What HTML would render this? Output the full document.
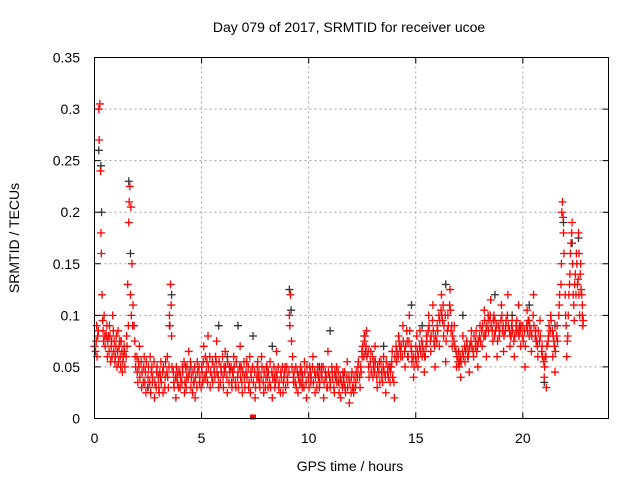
<!DOCTYPE html>
<html><head><meta charset="utf-8"><style>
body{margin:0;background:#fff}
svg{display:block;font-family:"Liberation Sans",sans-serif}
</style></head><body>
<svg id="chart" width="640" height="480" viewBox="0 0 640 480">
<rect width="640" height="480" fill="#fff"/>
<text x="349" y="32" text-anchor="middle" font-size="14">Day 079 of 2017, SRMTID for receiver ucoe</text>
<text x="350" y="471" text-anchor="middle" font-size="14">GPS time / hours</text>
<text transform="translate(19,238) rotate(-90)" text-anchor="middle" font-size="14">SRMTID / TECUs</text>
<g id="grid"></g><g id="ticks"></g><g id="black"></g><g id="red"></g>
<rect x="94.5" y="57.5" width="514" height="361" fill="none" stroke="#000" stroke-width="1"/>
</svg>
<script>
const xTicks=[0,5,10,15,20];
const yTicks=[0,0.05,0.1,0.15,0.2,0.25,0.3,0.35];
const yTickLabels=["0","0.05","0.1","0.15","0.2","0.25","0.3","0.35"];
const redPts=[[0,.07],[.05,.065],[.1,.09],[.15,.08],[.2,.3],[.22,.27],[.25,.305],[.28,.24],[.3,.18],[.32,.16],[.35,.12],[.4,.085],[.45,.1],[.5,.07],[.55,.08],[.6,.06],[.7,.09],[.75,.055],[.8,.075],[.85,.1],[.9,.065],[1,.07],[1.05,.05],[1.1,.085],[1.2,.06],[1.25,.075],[1.3,.045],[1.4,.065],[1.5,.08],[1.55,.13],[1.6,.19],[1.65,.225],[1.7,.205],[1.75,.15],[1.8,.11],[1.85,.09],[1.9,.06],[2,.045],[2.1,.07],[2.2,.03],[2.3,.05],[2.4,.025],[2.5,.04],[2.6,.06],[2.7,.035],[2.8,.02],[2.9,.045],[3,.03],[3.1,.055],[3.2,.025],[3.3,.04],[3.4,.06],[3.5,.1],[3.55,.13],[3.6,.08],[3.7,.035],[3.8,.02],[3.9,.045],[4,.03],[4.1,.05],[4.2,.025],[4.3,.04],[4.4,.065],[4.5,.03],[4.6,.045],[4.7,.02],[4.8,.055],[4.9,.035],[5,.05],[5.1,.07],[5.2,.04],[5.3,.08],[5.4,.03],[5.5,.055],[5.6,.045],[5.7,.075],[5.8,.03],[5.9,.05],[6,.04],[6.1,.065],[6.2,.025],[6.3,.05],[6.4,.035],[6.5,.06],[6.6,.03],[6.7,.045],[6.8,.07],[6.9,.025],[7,.04],[7.1,.055],[7.2,.03],[7.3,.045],[7.5,.02],[7.6,.05],[7.7,.035],[7.8,.06],[7.9,.025],[8,.04],[8.1,.03],[8.2,.055],[8.3,.02],[8.4,.04],[8.5,.065],[8.6,.03],[8.7,.045],[8.8,.025],[8.9,.05],[9,.04],[9.1,.1],[9.15,.12],[9.2,.075],[9.3,.035],[9.4,.05],[9.5,.025],[9.6,.045],[9.7,.03],[9.8,.055],[9.9,.02],[10,.04],[10.1,.035],[10.2,.06],[10.3,.025],[10.4,.045],[10.5,.03],[10.6,.05],[10.7,.02],[10.8,.04],[10.9,.065],[11,.03],[11.1,.045],[11.2,.025],[11.3,.05],[11.4,.035],[11.5,.02],[11.6,.045],[11.7,.03],[11.8,.055],[11.9,.015],[12,.04],[12.1,.025],[12.2,.035],[12.3,.05],[12.4,.03],[12.5,.06],[12.6,.075],[12.7,.085],[12.8,.05],[12.9,.065],[13,.04],[13.1,.07],[13.2,.03],[13.3,.055],[13.4,.045],[13.5,.06],[13.6,.025],[13.7,.05],[13.8,.035],[13.9,.065],[14,.02],[14.1,.055],[14.2,.08],[14.3,.06],[14.4,.09],[14.5,.05],[14.6,.075],[14.7,.1],[14.8,.065],[14.9,.04],[15,.07],[15.1,.05],[15.2,.085],[15.3,.06],[15.4,.045],[15.5,.08],[15.6,.1],[15.7,.065],[15.8,.11],[15.9,.05],[16,.09],[16.1,.07],[16.2,.12],[16.3,.08],[16.4,.055],[16.5,.1],[16.6,.125],[16.7,.07],[16.8,.09],[16.9,.05],[17,.065],[17.1,.04],[17.2,.08],[17.3,.055],[17.4,.07],[17.5,.045],[17.6,.085],[17.7,.06],[17.8,.075],[17.9,.05],[18,.09],[18.1,.07],[18.2,.105],[18.3,.06],[18.4,.085],[18.5,.115],[18.6,.075],[18.7,.095],[18.8,.06],[18.9,.08],[19,.11],[19.1,.065],[19.2,.09],[19.3,.12],[19.4,.07],[19.5,.095],[19.6,.06],[19.7,.085],[19.8,.11],[19.9,.07],[20,.09],[20.1,.05],[20.2,.105],[20.3,.08],[20.4,.065],[20.5,.12],[20.6,.085],[20.7,.06],[20.8,.095],[20.9,.07],[21,.04],[21.1,.03],[21.2,.08],[21.3,.1],[21.4,.06],[21.5,.045],[21.6,.09],[21.7,.11],[21.8,.15],[21.85,.21],[21.9,.18],[22,.1],[22.05,.06],[22.1,.08],[22.2,.14],[22.25,.17],[22.3,.19],[22.35,.12],[22.4,.095],[22.5,.16],[22.55,.13],[22.6,.18],[22.65,.1],[22.7,.15],[22.75,.12],[22.8,.09]];
const redPts2=[[.12,.06],[.42,.075],[.65,.08],[.95,.055],[1.15,.07],[1.35,.06],[1.62,.21],[1.72,.1],[2.05,.055],[2.35,.035],[2.65,.045],[3.05,.045],[3.45,.03],[3.58,.11],[3.85,.04],[4.25,.05],[4.65,.035],[5.05,.035],[5.25,.055],[5.65,.06],[6.05,.05],[6.45,.045],[6.85,.05],[7.25,.06],[7.65,.04],[8.05,.05],[8.45,.035],[8.85,.04],[9.25,.06],[9.65,.035],[10.05,.05],[10.45,.04],[10.85,.03],[11.25,.04],[11.65,.035],[12.05,.03],[12.45,.045],[12.65,.065],[13.05,.055],[13.45,.035],[13.85,.05],[14.25,.07],[14.65,.06],[15.05,.08],[15.45,.06],[15.85,.075],[16.25,.095],[16.65,.085],[17.05,.055],[17.45,.06],[17.85,.065],[18.25,.08],[18.65,.1],[19.05,.085],[19.45,.08],[19.85,.09],[20.25,.095],[20.65,.075],[21.05,.06],[21.45,.075],[21.82,.2],[22.15,.12],[22.45,.14],[22.62,.16],[22.78,.11]];
const redPts3=[[.08,.075],[.18,.085],[.38,.095],[.48,.08],[.58,.09],[.62,.075],[.68,.065],[.72,.08],[.78,.07],[.82,.06],[.88,.085],[.92,.075],[.98,.06],[1.02,.08],[1.08,.065],[1.12,.055],[1.18,.075],[1.22,.05],[1.28,.065],[1.32,.055],[1.38,.07],[1.42,.05],[1.48,.06],[1.52,.07],[1.58,.09],[1.68,.12],[1.78,.09],[1.88,.075],[1.92,.05],[1.98,.06],[2.02,.035],[2.08,.05],[2.12,.04],[2.18,.055],[2.22,.045],[2.28,.035],[2.32,.06],[2.38,.045],[2.42,.055],[2.48,.03],[2.52,.05],[2.58,.035],[2.62,.025],[2.68,.05],[2.72,.04],[2.78,.055],[2.82,.035],[2.88,.03],[2.92,.05],[2.98,.04],[3.02,.025],[3.08,.04],[3.12,.035],[3.18,.045],[3.22,.05],[3.28,.03],[3.32,.055],[3.38,.045],[3.42,.04],[3.48,.05],[3.52,.09],[3.62,.05],[3.68,.045],[3.72,.03],[3.78,.04],[3.82,.05],[3.88,.035],[3.92,.03],[3.98,.045],[4.02,.04],[4.08,.035],[4.12,.045],[4.18,.055],[4.22,.035],[4.28,.03],[4.32,.05],[4.38,.04],[4.42,.045],[4.48,.055],[4.52,.04],[4.58,.025],[4.62,.035],[4.68,.05],[4.72,.04],[4.78,.03],[4.82,.045],[4.88,.05],[4.92,.04],[4.98,.03],[5.02,.045],[5.08,.055],[5.12,.04],[5.18,.06],[5.22,.045],[5.28,.035],[5.32,.05],[5.38,.06],[5.42,.045],[5.48,.04],[5.52,.035],[5.58,.05],[5.62,.04],[5.68,.055],[5.72,.045],[5.78,.04],[5.82,.055],[5.88,.035],[5.92,.045],[5.98,.06],[6.02,.03],[6.08,.045],[6.12,.05],[6.18,.04],[6.22,.055],[6.28,.035],[6.32,.045],[6.38,.05],[6.42,.03],[6.48,.04],[6.52,.05],[6.58,.035],[6.62,.055],[6.68,.04],[6.72,.03],[6.78,.05],[6.82,.04],[6.88,.035],[6.92,.045],[6.98,.055],[7.02,.03],[7.08,.045],[7.12,.04],[7.18,.05],[7.22,.035],[7.28,.025],[7.32,.04],[7.38,.05],[7.42,.035],[7.48,.045],[7.52,.03],[7.58,.04],[7.62,.055],[7.68,.045],[7.72,.03],[7.78,.04],[7.82,.05],[7.88,.035],[7.92,.045],[7.98,.03],[8.02,.05],[8.08,.04],[8.12,.045],[8.18,.035],[8.22,.03],[8.28,.045],[8.32,.04],[8.38,.05],[8.42,.03],[8.48,.045],[8.52,.04],[8.58,.05],[8.62,.035],[8.68,.025],[8.72,.04],[8.78,.05],[8.82,.035],[8.88,.045],[8.92,.03],[8.98,.05],[9.02,.035],[9.08,.045],[9.12,.09],[9.22,.05],[9.28,.04],[9.32,.045],[9.38,.035],[9.42,.03],[9.48,.045],[9.52,.04],[9.58,.035],[9.62,.05],[9.68,.045],[9.72,.04],[9.78,.03],[9.82,.045],[9.88,.035],[9.92,.05],[9.98,.04],[10.02,.03],[10.08,.045],[10.12,.04],[10.18,.05],[10.22,.035],[10.28,.045],[10.32,.04],[10.38,.03],[10.42,.05],[10.48,.04],[10.52,.035],[10.58,.045],[10.62,.04],[10.68,.05],[10.72,.035],[10.78,.045],[10.82,.04],[10.88,.03],[10.92,.045],[10.98,.04],[11.02,.035],[11.08,.05],[11.12,.04],[11.18,.03],[11.22,.045],[11.28,.04],[11.32,.035],[11.38,.045],[11.42,.025],[11.48,.04],[11.52,.035],[11.58,.03],[11.62,.04],[11.68,.045],[11.72,.025],[11.78,.04],[11.82,.03],[11.88,.04],[11.92,.035],[11.98,.025],[12.02,.045],[12.08,.03],[12.12,.04],[12.18,.03],[12.22,.045],[12.28,.04],[12.32,.055],[12.38,.04],[12.42,.05],[12.48,.065],[12.52,.07],[12.58,.06],[12.62,.08],[12.68,.07],[12.72,.06],[12.78,.065],[12.82,.04],[12.88,.055],[12.92,.045],[12.98,.06],[13.02,.05],[13.08,.045],[13.12,.055],[13.18,.04],[13.22,.05],[13.28,.045],[13.32,.035],[13.38,.055],[13.42,.04],[13.48,.05],[13.52,.045],[13.58,.04],[13.62,.055],[13.68,.045],[13.72,.04],[13.78,.05],[13.82,.045],[13.88,.055],[13.92,.04],[13.98,.035],[14.02,.06],[14.08,.07],[14.12,.065],[14.18,.06],[14.22,.075],[14.28,.065],[14.32,.07],[14.38,.06],[14.42,.075],[14.48,.065],[14.52,.07],[14.58,.085],[14.62,.06],[14.68,.075],[14.72,.085],[14.78,.07],[14.82,.055],[14.88,.06],[14.92,.05],[14.98,.06],[15.02,.055],[15.08,.065],[15.12,.06],[15.18,.07],[15.22,.065],[15.28,.075],[15.32,.07],[15.38,.065],[15.42,.06],[15.48,.07],[15.52,.075],[15.58,.085],[15.62,.09],[15.68,.075],[15.72,.08],[15.78,.095],[15.82,.085],[15.88,.07],[15.92,.08],[15.98,.075],[16.02,.085],[16.08,.1],[16.12,.095],[16.18,.105],[16.22,.1],[16.28,.11],[16.32,.09],[16.38,.1],[16.42,.075],[16.48,.085],[16.52,.09],[16.58,.11],[16.62,.105],[16.68,.09],[16.72,.08],[16.78,.075],[16.82,.07],[16.88,.065],[16.92,.06],[16.98,.055],[17.02,.05],[17.08,.06],[17.12,.055],[17.18,.065],[17.22,.06],[17.28,.07],[17.32,.065],[17.38,.075],[17.42,.06],[17.48,.065],[17.52,.07],[17.58,.075],[17.62,.07],[17.68,.065],[17.72,.08],[17.78,.07],[17.82,.085],[17.88,.07],[17.92,.075],[17.98,.08],[18.02,.075],[18.08,.085],[18.12,.09],[18.18,.08],[18.22,.095],[18.28,.085],[18.32,.09],[18.38,.1],[18.42,.095],[18.48,.1],[18.52,.09],[18.58,.085],[18.62,.095],[18.68,.08],[18.72,.085],[18.78,.09],[18.82,.075],[18.88,.09],[18.92,.085],[18.98,.095],[19.02,.1],[19.08,.09],[19.12,.08],[19.18,.085],[19.22,.095],[19.28,.1],[19.32,.09],[19.38,.085],[19.42,.08],[19.48,.09],[19.52,.085],[19.58,.075],[19.62,.08],[19.68,.09],[19.72,.095],[19.78,.085],[19.82,.08],[19.88,.085],[19.92,.09],[19.98,.08],[20.02,.075],[20.08,.085],[20.12,.07],[20.18,.09],[20.22,.085],[20.28,.095],[20.32,.09],[20.38,.085],[20.42,.08],[20.48,.1],[20.52,.09],[20.58,.08],[20.62,.075],[20.68,.07],[20.72,.085],[20.78,.075],[20.82,.08],[20.88,.065],[20.92,.06],[20.98,.055],[21.02,.05],[21.08,.06],[21.12,.07],[21.18,.075],[21.22,.09],[21.28,.085],[21.32,.095],[21.38,.085],[21.42,.08],[21.48,.07],[21.52,.065],[21.58,.08],[21.62,.075],[21.68,.1],[21.72,.12],[21.78,.13],[21.88,.195],[21.92,.16],[21.98,.12],[22.02,.09],[22.08,.075],[22.12,.1],[22.18,.13],[22.22,.16],[22.28,.18],[22.32,.15],[22.38,.11],[22.42,.13],[22.48,.12],[22.52,.15],[22.58,.135],[22.62,.12],[22.68,.14],[22.72,.125],[22.78,.1],[22.82,.095]];
const blackPts=[[.2,.26],[.3,.245],[.33,.2],[1.6,.23],[1.68,.16],[3.5,.09],[3.6,.12],[5.8,.09],[6.7,.09],[7.4,.08],[8.3,.07],[9.1,.125],[9.18,.105],[11,.085],[12.6,.08],[14.8,.11],[15.3,.09],[16.4,.13],[17.2,.1],[18.7,.12],[20.3,.11],[21,.035],[21.9,.19],[22.3,.17],[22.6,.175],[2.5,.03],[4.5,.05],[6.2,.06],[10.5,.05],[13.5,.07],[19.5,.1],[21.5,.09]];
const X0=94.5,X1=608.5,Y0=418.5,Y1=57.5,XMAX=24,YMAX=0.35;
function xs(t){return X0+(X1-X0)*t/XMAX;}
function ys(v){return Y0-(Y0-Y1)*v/YMAX;}
const NS="http://www.w3.org/2000/svg";
const grid=document.getElementById('grid'),ticks=document.getElementById('ticks');
function mk(tag,attrs,parent){const e=document.createElementNS(NS,tag);for(const k in attrs)e.setAttribute(k,attrs[k]);parent.appendChild(e);return e;}
xTicks.forEach(t=>{const x=xs(t);
 if(t>0){const g=mk('line',{x1:x,x2:x,y1:Y0,y2:Y1,stroke:'#a0a0a0','stroke-dasharray':'2,3'},grid);}
 const tk=mk('path',{d:`M${x},${Y0}v-6M${x},${Y1}v6`,stroke:'#000'},ticks);
 const lb=mk('text',{x:x,y:443,'text-anchor':'middle','font-size':14},ticks);lb.textContent=t;});
yTicks.forEach((v,i)=>{const y=ys(v);
 if(v>0&&v<YMAX){const g=mk('line',{x1:X0,x2:X1,y1:y,y2:y,stroke:'#a0a0a0','stroke-dasharray':'2,3'},grid);}
 const tk=mk('path',{d:`M${X0},${y}h6M${X1},${y}h-6`,stroke:'#000'},ticks);
 const lb=mk('text',{x:80,y:y+5,'text-anchor':'end','font-size':14},ticks);lb.textContent=yTickLabels[i];});
function plot(pts,color,gid,name){const g=document.getElementById(gid);
 pts.forEach(p=>{const x=xs(p[0]),y=ys(p[1]);
  const m=mk('path',{d:`M${x-4},${y}h8M${x},${y-4}v8`,stroke:color,'stroke-width':1.3},g);
  
  });}
plot(blackPts,'#333','black','black-point');
plot(redPts,'#ff0000','red','red-point');
plot(redPts2,'#ff0000','red','red-point');
plot(redPts3,'#ff0000','red','red-point');
const sq=mk('rect',{x:xs(7.4)-3,y:Y0-4,width:6,height:5,fill:'#ff0000'},document.getElementById('red'));


</script>
</body></html>
